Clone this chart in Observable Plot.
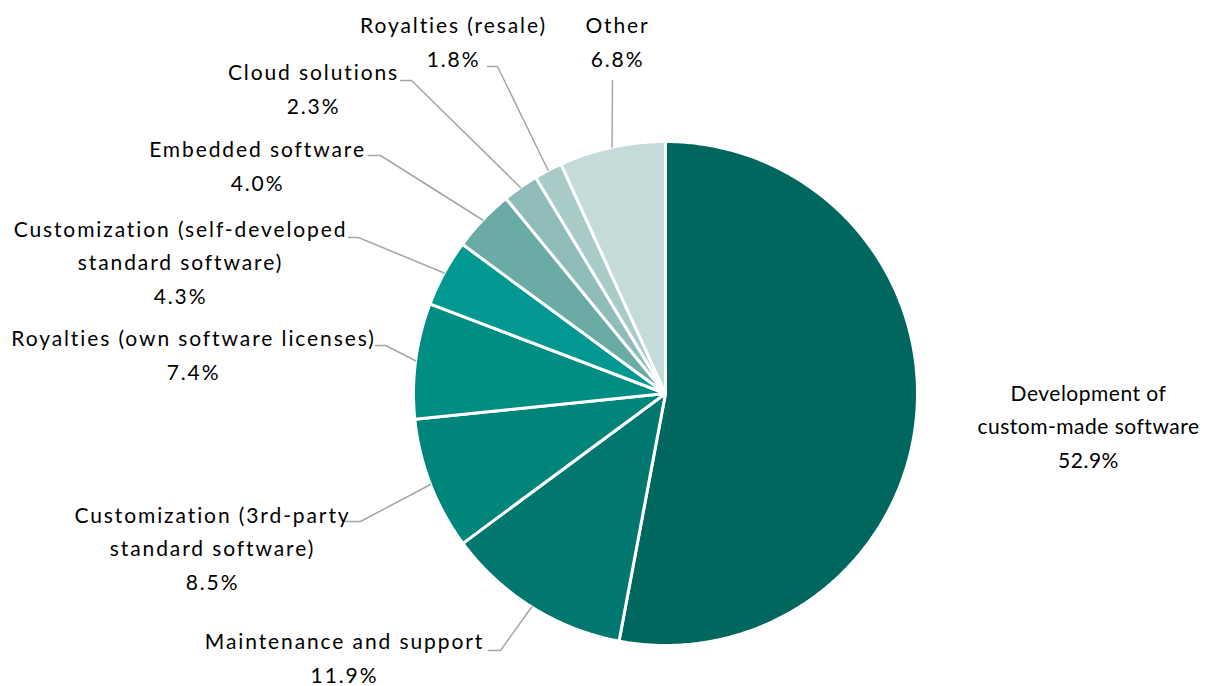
<!DOCTYPE html>
<html>
<head>
<meta charset="utf-8">
<script src="https://cdn.jsdelivr.net/npm/d3@7"></script>
<script src="https://cdn.jsdelivr.net/npm/@observablehq/plot@0.6"></script>
<style>
  body { margin: 0; background: #ffffff; }
  #chart svg { display: block; }
</style>
</head>
<body>
<div id="chart"></div>
<script>
// Revenue shares by software segment, clockwise from 12 o'clock
const categories = [
  "Development of custom-made software",
  "Maintenance and support",
  "Customization (3rd-party standard software)",
  "Royalties (own software licenses)",
  "Customization (self-developed standard software)",
  "Embedded software",
  "Cloud solutions",
  "Royalties (resale)",
  "Other"
];
const shares = [52.9, 11.9, 8.5, 7.4, 4.3, 4.0, 2.3, 1.8, 6.8];
const labelNames = [
  "Development of\ncustom-made software",
  "Maintenance and support",
  "Customization (3rd-party\nstandard software)",
  "Royalties (own software licenses)",
  "Customization (self-developed\nstandard software)",
  "Embedded software",
  "Cloud solutions",
  "Royalties (resale)",
  "Other"
];

// Styling: slice colours, darkest for the largest segment
const palette = ["#00675f", "#00776f", "#00857b", "#008d84", "#009890", "#6aaba6", "#8fbcb8", "#a8cbc8", "#c5dbd9"];
// letter spacing of each label (px)
const tracking = [0.5, 1.9, 1.9, 1.9, 1.9, 1.9, 1.9, 1.9, 1.9];

// Layout (in pixels of the drawing area)
const W = 1205, H = 686;
const cx = 665, cy = 393, R = 252;
// label block centres
const labelPos = [
  [1088, 423], [344, 655], [212, 545], [193, 352], [180, 259],
  [257, 163], [313, 86], [453, 39], [617, 39]
];
// leader line: end next to the label and the elbow; null = no leader
const leaderEnds = [
  null,
  [[488, 650], [500, 650]],
  [[345, 521], [360, 521]],
  [[375, 345], [385, 345]],
  [[348, 237], [358, 237]],
  [[368, 155], [380, 155]],
  [[400, 80], [411, 80]],
  [[487, 66], [497, 66]],
  [[612, 80]]
];

const total = d3.sum(shares);
const wedges = [];
const leaders = [];
const labels = [];
let cum = 0;
categories.forEach((cat, i) => {
  const a0 = cum / total * 2 * Math.PI;
  cum += shares[i];
  const a1 = cum / total * 2 * Math.PI;
  const steps = Math.max(2, Math.ceil((a1 - a0) / (Math.PI / 360)));
  wedges.push({cat, x: cx, y: cy});
  for (let k = 0; k <= steps; ++k) {
    const a = a0 + (a1 - a0) * k / steps;
    wedges.push({cat, x: cx + Math.sin(a) * R, y: cy - Math.cos(a) * R});
  }
  const am = (a0 + a1) / 2;
  if (leaderEnds[i]) {
    const pts = [[cx + Math.sin(am) * R, cy - Math.cos(am) * R], ...leaderEnds[i].slice().reverse()];
    pts.forEach(([x, y]) => leaders.push({cat, x, y}));
  }
  labels.push({
    cat,
    x: labelPos[i][0],
    y: labelPos[i][1],
    text: `${labelNames[i]}\n${shares[i].toFixed(1)}%`
  });
});

const chart = Plot.plot({
  width: W,
  height: H,
  margin: 0,
  style: {fontFamily: "Lato, 'Open Sans', sans-serif", background: "#ffffff"},
  x: {domain: [0, W], range: [0, W], axis: null},
  y: {domain: [0, H], range: [0, H], axis: null},
  color: {domain: categories, range: palette},
  marks: [
    Plot.line(wedges, {
      x: "x", y: "y", z: "cat", fill: "cat",
      stroke: "#ffffff", strokeWidth: 3, strokeLinejoin: "round",
      curve: "linear-closed"
    }),
    Plot.line(leaders, {
      x: "x", y: "y", z: "cat",
      stroke: "#a6a6a6", strokeWidth: 1.5
    }),
    Plot.text(labels, {
      x: "x", y: "y", text: "text",
      fontSize: 21, lineHeight: 1.6,
      fill: "#000000", textAnchor: "middle", lineAnchor: "middle"
    })
  ]
});

// wider tracking for the label text, one <text> per label in data order
chart.querySelectorAll('g[aria-label="text"] text')
  .forEach((t, i) => t.setAttribute("letter-spacing", tracking[i]));

document.getElementById("chart").appendChild(chart);
</script>
</body>
</html>
